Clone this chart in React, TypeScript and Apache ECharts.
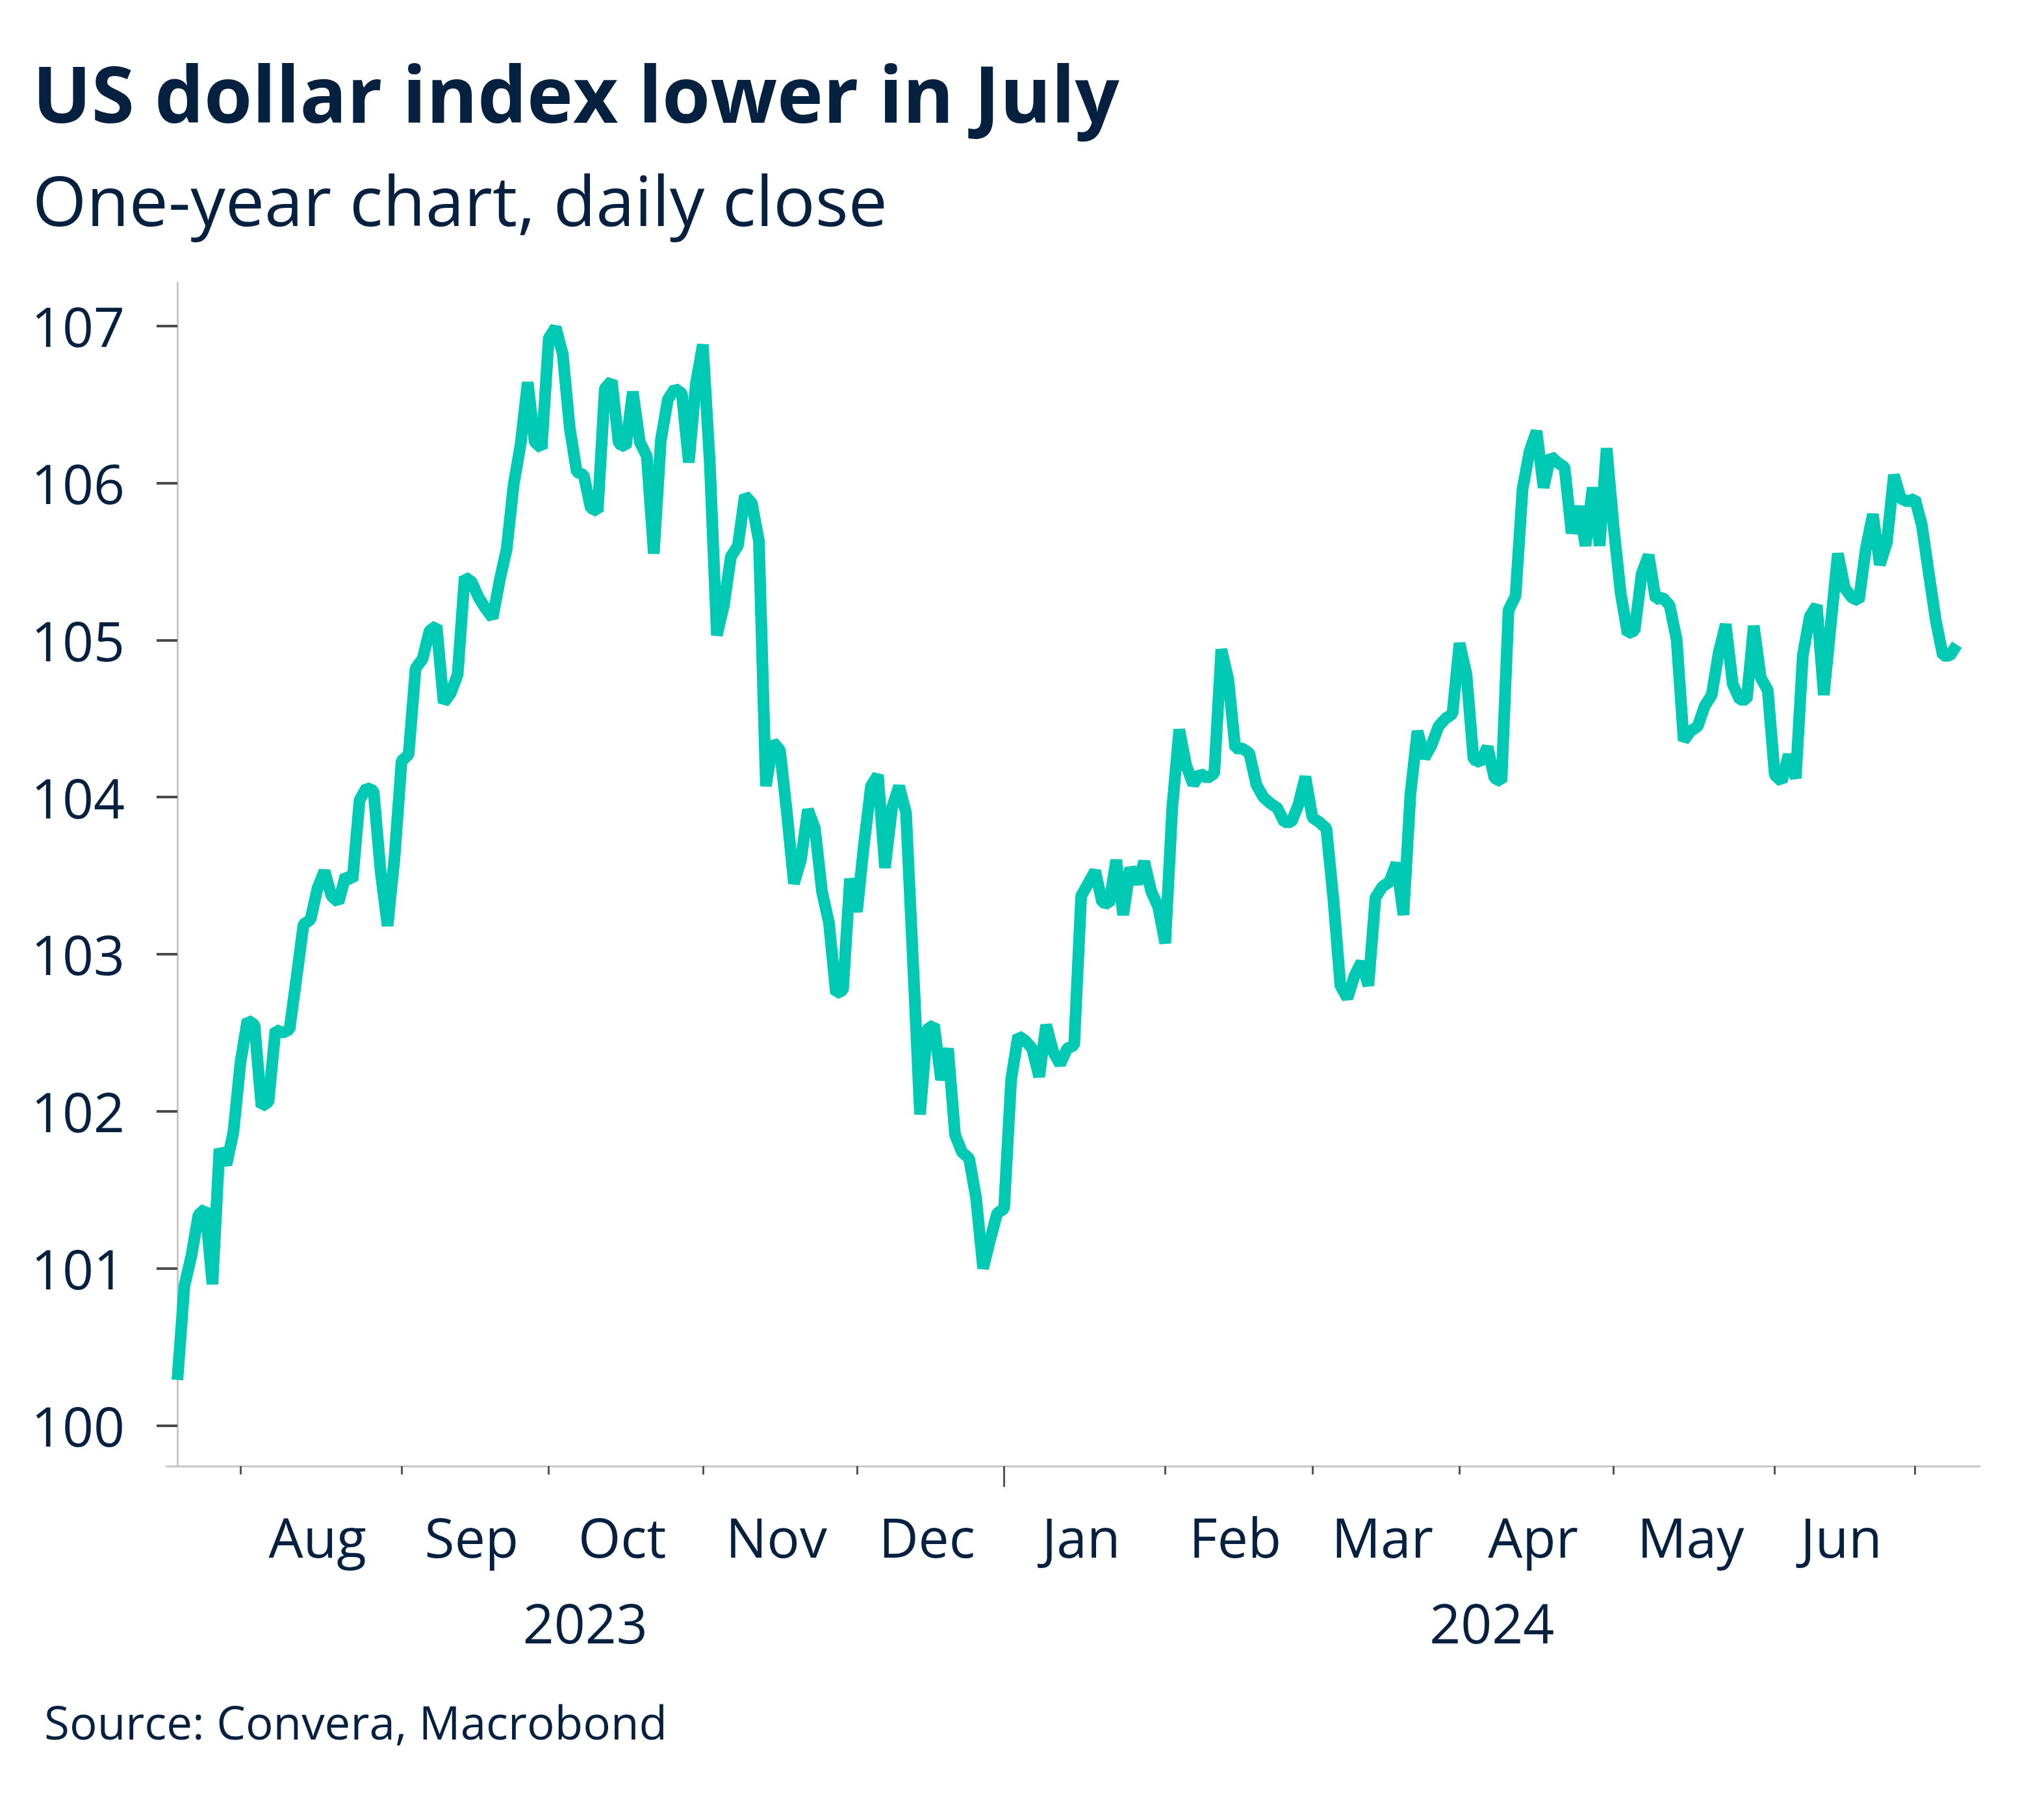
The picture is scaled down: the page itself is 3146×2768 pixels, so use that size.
import React, { useEffect, useRef } from "react";
import * as echarts from "echarts";

// ---- data ----
const START_DATE = "2023-07-19";
const END_DATE = "2024-07-09";
const MONTH_NAMES = ["Jan", "Feb", "Mar", "Apr", "May", "Jun", "Jul", "Aug", "Sep", "Oct", "Nov", "Dec"];
const LABELLED_MONTHS = [
  "2023-08", "2023-09", "2023-10", "2023-11", "2023-12",
  "2024-01", "2024-02", "2024-03", "2024-04", "2024-05", "2024-06",
];
const YEARS = ["2023", "2024"];
const Y_TICKS = [100, 101, 102, 103, 104, 105, 106, 107];

// US dollar index, daily close (weekdays)
const DXY = [
  100.29, 100.89, 101.08, 101.34, 101.38, 100.9, 101.76, 101.66, 101.87, 102.31,
  102.58, 102.55, 102.03, 102.06, 102.52, 102.5, 102.52, 102.85, 103.19, 103.22,
  103.42, 103.53, 103.37, 103.33, 103.5, 103.47, 103.98, 104.06, 104.04, 103.53,
  103.18, 103.62, 104.23, 104.27, 104.82, 104.88, 105.06, 105.09, 104.6, 104.66,
  104.78, 105.4, 105.37, 105.27, 105.2, 105.14, 105.38, 105.58, 105.99, 106.25,
  106.64, 106.26, 106.22, 106.92, 106.99, 106.82, 106.35, 106.07, 106.05, 105.84,
  105.82, 106.6, 106.65, 106.25, 106.23, 106.58, 106.26, 106.17, 105.55, 106.27,
  106.53, 106.6, 106.57, 106.13, 106.63, 106.88, 106.12, 105.03, 105.22, 105.53,
  105.6, 105.92, 105.87, 105.63, 104.07, 104.35, 104.3, 103.9, 103.45, 103.6,
  103.92, 103.8, 103.4, 103.2, 102.75, 102.77, 103.48, 103.27, 103.7, 104.07,
  104.14, 103.55, 103.93, 104.07, 103.9, 102.95, 101.98, 102.52, 102.55, 102.2,
  102.4, 101.85, 101.74, 101.7, 101.45, 101.0, 101.18, 101.35, 101.38, 102.2,
  102.48, 102.45, 102.4, 102.22, 102.55, 102.38, 102.3, 102.4, 102.42, 103.37,
  103.45, 103.53, 103.33, 103.32, 103.6, 103.25, 103.55, 103.45, 103.59, 103.4,
  103.3, 103.07, 103.93, 104.43, 104.2, 104.08, 104.15, 104.12, 104.15, 104.94,
  104.75, 104.31, 104.31, 104.28, 104.08, 104.0, 103.96, 103.93, 103.84, 103.84,
  103.95, 104.13, 103.87, 103.84, 103.8, 103.35, 102.8, 102.72, 102.86, 102.95,
  102.8, 103.36, 103.43, 103.46, 103.58, 103.25, 104.02, 104.42, 104.25, 104.33,
  104.45, 104.5, 104.53, 104.98, 104.78, 104.24, 104.22, 104.32, 104.12, 104.1,
  105.19, 105.28, 105.96, 106.2, 106.33, 105.97, 106.17, 106.13, 106.1, 105.68,
  105.85, 105.6, 105.97, 105.6, 106.22, 105.72, 105.3, 105.04, 105.06, 105.42,
  105.54, 105.26, 105.27, 105.22, 105.0, 104.36, 104.42, 104.45, 104.58, 104.65,
  104.92, 105.1, 104.72, 104.62, 104.62, 105.09, 104.76, 104.68, 104.14, 104.1,
  104.27, 104.12, 104.9, 105.15, 105.22, 104.65, 105.1, 105.55, 105.33, 105.27,
  105.25, 105.58, 105.8, 105.48, 105.62, 106.05, 105.9, 105.88, 105.9, 105.73,
  105.42, 105.12, 104.9, 104.9, 104.97,
];

const TITLE = "US dollar index lower in July";
const SUBTITLE = "One-year chart, daily close";
const SOURCE = "Source: Convera, Macrobond";

// ---- helpers ----
function weekdayDates(start: string, end: string): string[] {
  const out: string[] = [];
  const d = new Date(start + "T00:00:00Z");
  const e = new Date(end + "T00:00:00Z");
  while (d.getTime() <= e.getTime()) {
    const wd = d.getUTCDay();
    if (wd !== 0 && wd !== 6) out.push(d.toISOString().slice(0, 10));
    d.setUTCDate(d.getUTCDate() + 1);
  }
  return out;
}

const FONT = '"Open Sans", "Noto Sans", sans-serif';
const NAVY = "#06213f";
const TEAL = "#00c9b4";

export default function App() {
  const ref = useRef<HTMLDivElement>(null);

  useEffect(() => {
    document.body.style.margin = "0";
    if (!ref.current) return;
    const chart = echarts.init(ref.current, undefined, { renderer: "svg" });

    const dates = weekdayDates(START_DATE, END_DATE).slice(0, DXY.length);
    const n = dates.length;
    const X_MIN = -1.58;
    const X_MAX = n - 1 + 3.25;

    // first weekday of each month (ticks)
    const monthStarts: number[] = [];
    for (let i = 1; i < n; i++) {
      if (dates[i].slice(0, 7) !== dates[i - 1].slice(0, 7)) monthStarts.push(i);
    }
    // month label positions: centre of each labelled month
    const labelMap = new Map<string, string>();
    const labelVals: number[] = [];
    LABELLED_MONTHS.forEach((ym) => {
      const idx = dates.map((d, i) => (d.startsWith(ym) ? i : -1)).filter((i) => i >= 0);
      const mid = (idx[0] + idx[idx.length - 1]) / 2;
      labelVals.push(mid);
      labelMap.set(mid.toFixed(2), MONTH_NAMES[parseInt(ym.slice(5), 10) - 1]);
    });
    const janIdx = dates.findIndex((d) => d.startsWith("2024-01"));
    const yearVals = [(X_MIN + janIdx) / 2, (janIdx + X_MAX) / 2];
    const yearMap = new Map<string, string>();
    yearVals.forEach((v, k) => yearMap.set(v.toFixed(2), YEARS[k]));

    const axisLabelStyle = { color: NAVY, fontSize: 84, fontFamily: FONT };

    chart.setOption({
      animation: false,
      backgroundColor: "#ffffff",
      grid: { left: 256, right: 99, top: 435, bottom: 511, containLabel: false, outerBoundsMode: "none" },
      xAxis: [
        {
          type: "value",
          min: X_MIN,
          max: X_MAX,
          position: "bottom",
          axisLine: { show: true, lineStyle: { color: "#c8c8c8", width: 3 } },
          axisTick: { show: true, customValues: monthStarts, length: 13, lineStyle: { color: "#555555", width: 3 } },
          axisLabel: {
            show: true,
            customValues: labelVals,
            margin: 66,
            ...axisLabelStyle,
            formatter: (v: number) => labelMap.get(Number(v).toFixed(2)) || "",
          },
          splitLine: { show: false },
        },
        {
          type: "value",
          min: X_MIN,
          max: X_MAX,
          position: "bottom",
          axisLine: { show: false },
          axisTick: { show: false },
          axisLabel: {
            show: true,
            customValues: yearVals,
            margin: 198,
            ...axisLabelStyle,
            formatter: (v: number) => yearMap.get(Number(v).toFixed(2)) || "",
          },
          splitLine: { show: false },
        },
        {
          type: "value",
          min: X_MIN,
          max: X_MAX,
          position: "bottom",
          axisLine: { show: false },
          axisTick: { show: true, customValues: [janIdx], length: 32, lineStyle: { color: "#555555", width: 3 } },
          axisLabel: { show: false },
          splitLine: { show: false },
        },
      ],
      yAxis: {
        type: "value",
        min: 99.742,
        max: 107.275,
        axisLine: { show: true, lineStyle: { color: "#c8c8c8", width: 3 } },
        axisTick: { show: true, customValues: Y_TICKS, length: 32, lineStyle: { color: "#4a4a4a", width: 4 } },
        axisLabel: {
          show: true,
          customValues: Y_TICKS,
          margin: 64,
          ...axisLabelStyle,
          formatter: (v: number) => String(Math.round(v)),
        },
        splitLine: { show: false },
      },
      series: [
        {
          type: "line",
          xAxisIndex: 0,
          yAxisIndex: 0,
          data: DXY.map((v, i) => [i, v]),
          showSymbol: false,
          symbol: "none",
          lineStyle: { color: TEAL, width: 18, join: "bevel", cap: "butt" },
          emphasis: { disabled: true },
        },
      ],
      graphic: [
        {
          type: "text",
          x: 50,
          y: 142,
          style: { text: TITLE, fill: NAVY, fontSize: 120, fontWeight: "bold", fontFamily: FONT, align: "left", verticalAlign: "middle" },
        },
        {
          type: "text",
          x: 50,
          y: 306,
          style: { text: SUBTITLE, fill: NAVY, fontSize: 107, fontFamily: FONT, align: "left", verticalAlign: "middle" },
        },
        {
          type: "text",
          x: 68,
          y: 2650,
          style: { text: SOURCE, fill: NAVY, fontSize: 71, fontFamily: FONT, align: "left", verticalAlign: "middle" },
        },
      ],
    });

    return () => chart.dispose();
  }, []);

  return <div ref={ref} style={{ width: 3146, height: 2768 }} />;
}
